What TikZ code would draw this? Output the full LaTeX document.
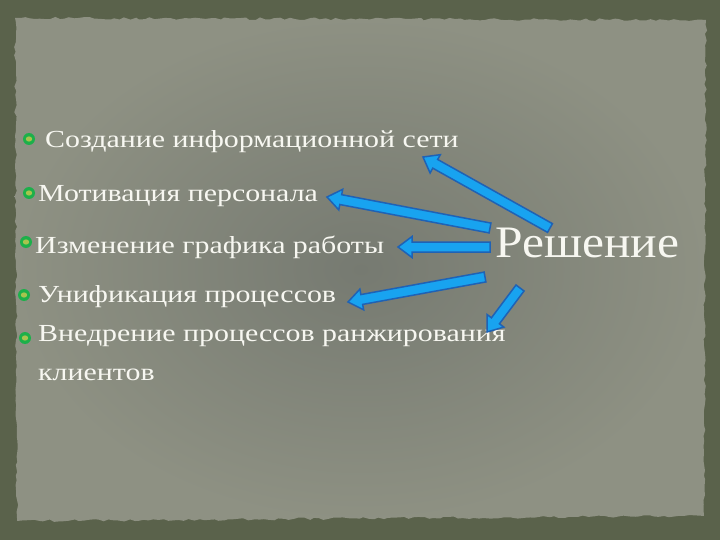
\documentclass[tikz,border=0pt]{standalone}
\usepackage{fontspec}
\setmainfont{Liberation Serif}[FakeStretch=1.22]
\newfontfamily\bigfont{Liberation Serif}[FakeStretch=1.1]
\usetikzlibrary{calc,decorations.pathmorphing}
\definecolor{outerbg}{HTML}{5A624B}
\definecolor{panelin}{HTML}{767A71}
\definecolor{panelout}{HTML}{8E9183}
\definecolor{arrfill}{HTML}{18A3F0}
\definecolor{arredge}{HTML}{1F62B5}
\definecolor{txt}{HTML}{F7F7F1}
\definecolor{bulin}{HTML}{A6C44E}
\definecolor{bulout}{HTML}{1CB04A}
\tikzset{
  item/.style={anchor=base west, inner sep=0pt, text=txt, font=\fontsize{24.5}{28}\selectfont},
  bul/.style={circle, inner sep=0pt, minimum size=12pt, fill=bulout},
  blockarr/.style={fill=arrfill, draw=arredge, line width=1.5pt, line join=miter},
}
\newcommand\blockarrow[2]{%
  \coordinate (hd) at ($(#2)!14pt!(#1)$);
  \draw[blockarr] ($(#1)!5pt!90:(#2)$) -- ($(hd)!5pt!90:(#2)$) -- ($(hd)!10.5pt!90:(#2)$)
     -- (#2) -- ($(hd)!10.5pt!-90:(#2)$) -- ($(hd)!5pt!-90:(#2)$) -- ($(#1)!5pt!-90:(#2)$) -- cycle;
}
\newcommand\bulcore[1]{\fill[bulin] (#1) ellipse (3.2pt and 2.6pt);}
\begin{document}
\begin{tikzpicture}[x=1pt,y=-1pt]
\useasboundingbox (0,0) rectangle (720,540);
\fill[outerbg] (0,0) rectangle (720,540);
\shade[inner color=panelin, outer color=panelout, decorate,
  decoration={random steps, segment length=5pt, amplitude=1.3pt}]
  (15,18) -- (706,20) -- (704,516) -- (17,521) -- cycle;

% bullets
\node[bul] (b1) at (29,139) {};
\node[bul] (b2) at (29,193) {};
\node[bul] (b3) at (26,242) {};
\node[bul] (b4) at (24,295) {};
\node[bul] (b5) at (25,338) {};
\bulcore{b1}\bulcore{b2}\bulcore{b3}\bulcore{b4}\bulcore{b5}

% items
\node[item] (t1) at (45,148) {Создание информационной сети};
\node[item] (t2) at (38,202) {Мотивация персонала};
\node[item] (t3) at (35,253) {Изменение графика работы};
\node[item] (t4) at (38,302) {Унификация процессов};
\node[item] (t5) at (38,341) {Внедрение процессов ранжирования};
\node[item] (t6) at (38,380) {клиентов};

\node[anchor=base west, inner sep=0pt, text=txt, font=\bigfont\fontsize{45}{50}\selectfont] (sol) at (495,257) {Решение};

% arrow end points
\coordinate (s1) at (550,228); \coordinate (e1) at (423,157);
\coordinate (s2) at (490,228); \coordinate (e2) at (327,197);
\coordinate (s3) at (490,247); \coordinate (e3) at (398,247);
\coordinate (s4) at (485,277); \coordinate (e4) at (348,302);
\coordinate (s5) at (520,288); \coordinate (e5) at (487,332);

\blockarrow{s1}{e1}
\blockarrow{s2}{e2}
\blockarrow{s3}{e3}
\blockarrow{s4}{e4}
\blockarrow{s5}{e5}
\end{tikzpicture}
\end{document}
